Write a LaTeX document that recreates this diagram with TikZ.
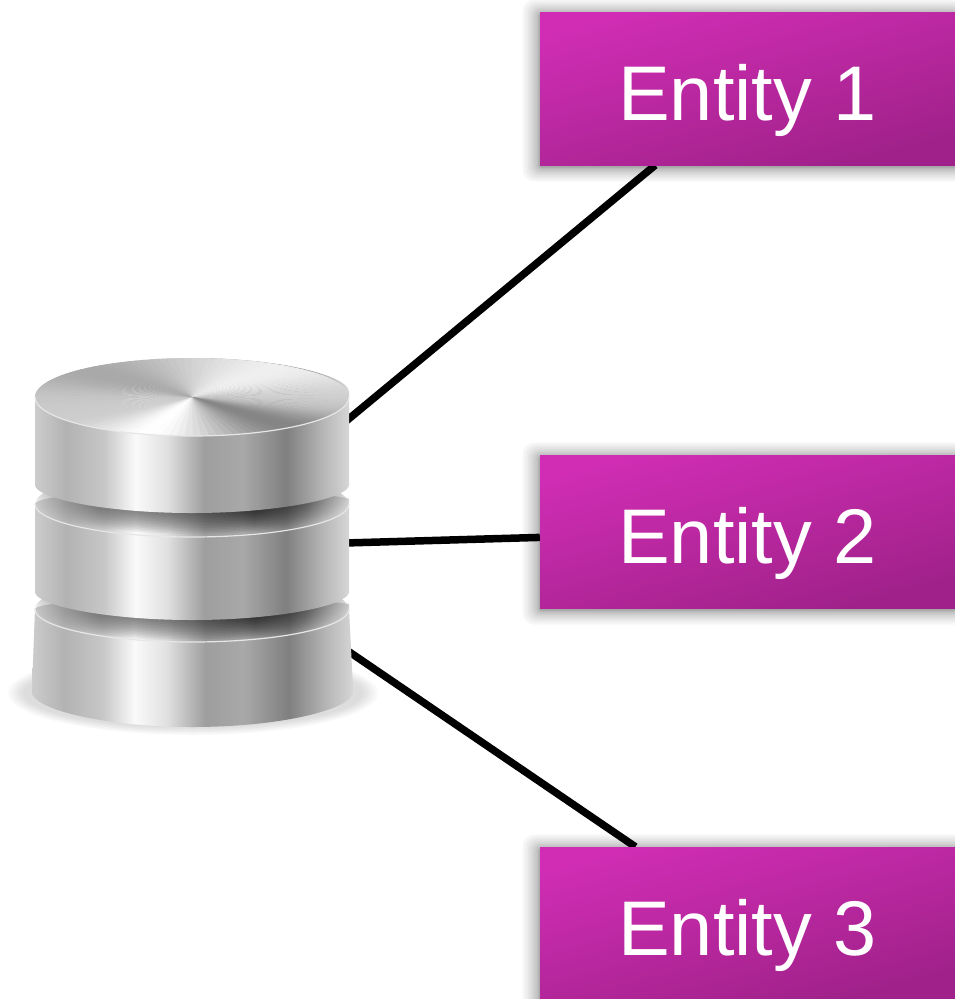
\documentclass[tikz,border=0pt]{standalone}
\usepackage{fontspec}
\setmainfont{Liberation Sans}
\usetikzlibrary{backgrounds,calc}

\definecolor{entitytop}{HTML}{D02DB4}
\definecolor{entitybot}{HTML}{9F2189}
\definecolor{lipgray}{HTML}{E6E6E6}

\pgfdeclarehorizontalshading{metal}{100bp}{
    rgb(0bp)=(.80,.80,.80);
    rgb(25bp)=(.80,.80,.80);
    rgb(30bp)=(.70,.70,.70);
    rgb(36bp)=(.78,.78,.78);
    rgb(41bp)=(.98,.98,.98);
    rgb(46bp)=(.88,.88,.88);
    rgb(52bp)=(.62,.62,.62);
    rgb(58bp)=(.66,.66,.66);
    rgb(65bp)=(.50,.50,.50);
    rgb(71bp)=(.72,.72,.72);
    rgb(75bp)=(.84,.84,.84);
    rgb(100bp)=(.84,.84,.84)
}
\pgfdeclarehorizontalshading{groove}{100bp}{
    rgb(0bp)=(.75,.75,.75);
    rgb(25bp)=(.75,.75,.75);
    rgb(35bp)=(.35,.35,.35);
    rgb(50bp)=(.25,.25,.25);
    rgb(60bp)=(0,0,0);
    rgb(68bp)=(.25,.25,.25);
    rgb(75bp)=(.75,.75,.75);
    rgb(100bp)=(.75,.75,.75)
}

\begin{document}
\begin{tikzpicture}[
    x=1pt, y=-1pt,
    entity/.style={
        shade, top color=entitytop, bottom color=entitybot, shading angle=15,
        text=white, inner sep=0pt,
        minimum width=415pt, minimum height=153pt,
        text height=63pt, text depth=0pt,
        font=\fontsize{77.5}{93}\selectfont
    },
    link/.style={line width=7.5pt, black},
    disc/.style={shade, shading=metal},
    lip/.style={draw=lipgray, line width=1.2pt}
]
    \useasboundingbox (0, 0) rectangle (955, 999);

    % Entities
    \node[entity] (ent1) at (747.5, 88.5) {Entity 1};
    \node[entity] (ent2) at (747.5, 531.5) {Entity 2};
    \node[entity] (ent3) at (747.5, 923.5) {Entity 3};

    % Ends on the stack
    \coordinate (dbA) at (345, 422);
    \coordinate (dbB) at (345, 543);
    \coordinate (dbC) at (345, 649);

    \begin{scope}[on background layer]
        % Box shadows
        \clip (0, 0) rectangle (955, 999);
        \foreach \e in {ent1, ent2, ent3}
            \foreach \i in {1, ..., 12}
                \fill[black, opacity=0.035, rounded corners=\i*1pt]
                    ($(\e.north west) + (-\i*\i*0.12, -\i*\i*0.1 + 2)$) rectangle
                    ($(\e.south east) + (\i*\i*0.12, \i*\i*0.1 + 2)$);

        % Links
        \draw[link] (dbA) -- (ent1);
        \draw[link] (dbB) -- (ent2);
        \draw[link] (dbC) -- (ent3);
    \end{scope}

    % Floor under the stack
    \foreach \i in {0, ..., 5}
        \fill[black, opacity=0.022] (193, 693) ellipse [x radius=185 - \i*3, y radius=42 - \i*1.5];

    % Bottom disc
    \path[disc, rounded corners=5pt] (35, 609) -- (32, 687)
        arc [start angle=180, end angle=0, x radius=160.5, y radius=40]
        -- (349, 609) arc [start angle=0, end angle=-180, x radius=157, y radius=11];

    % Lower groove
    \begin{scope}
        \clip (192, 609) ellipse [x radius=157, y radius=33];
        \foreach \i in {1, ..., 14}
            \shade[shading=groove, opacity=0.07] (192, 587 + \i*1.5) ellipse [x radius=157, y radius=33];
    \end{scope}
    \draw[lip] (35, 609) arc [start angle=180, end angle=0, x radius=157, y radius=33];

    % Middle disc
    \path[disc, rounded corners=5pt] (35, 504) -- (35, 587)
        arc [start angle=180, end angle=0, x radius=157, y radius=33]
        -- (349, 504) arc [start angle=0, end angle=-180, x radius=157, y radius=14];

    % Upper groove
    \begin{scope}
        \clip (192, 504) ellipse [x radius=157, y radius=33];
        \foreach \i in {1, ..., 14}
            \shade[shading=groove, opacity=0.07] (192, 480 + \i*1.5) ellipse [x radius=157, y radius=33];
    \end{scope}
    \draw[lip] (35, 504) arc [start angle=180, end angle=0, x radius=157, y radius=33];

    % Top disc
    \path[disc, rounded corners=5pt] (35, 397) -- (35, 480)
        arc [start angle=180, end angle=0, x radius=157, y radius=33]
        -- (349, 397) arc [start angle=0, end angle=-180, x radius=157, y radius=39];

    % Top face
    \foreach \a in {0, 3, ..., 357} {
        \pgfmathsetmacro{\g}{min(1, 0.80
            + 0.20*((1 + cos(\a - 105))/2)^30
            - 0.28*((1 + cos(\a - 50))/2)^20
            + 0.14*((1 + cos(\a - 305))/2)^10
            - 0.14*((1 + cos(\a - 225))/2)^10)}
        \definecolor{facegray}{gray}{\g}
        \fill[facegray] (192, 397) -- ++(\a - 0.3:157 and 39)
            arc [start angle=\a - 0.3, end angle=\a + 3.3, x radius=157, y radius=39] -- cycle;
    }
    \draw[lip] (35, 397) arc [start angle=180, end angle=0, x radius=157, y radius=39];
\end{tikzpicture}
\end{document}
